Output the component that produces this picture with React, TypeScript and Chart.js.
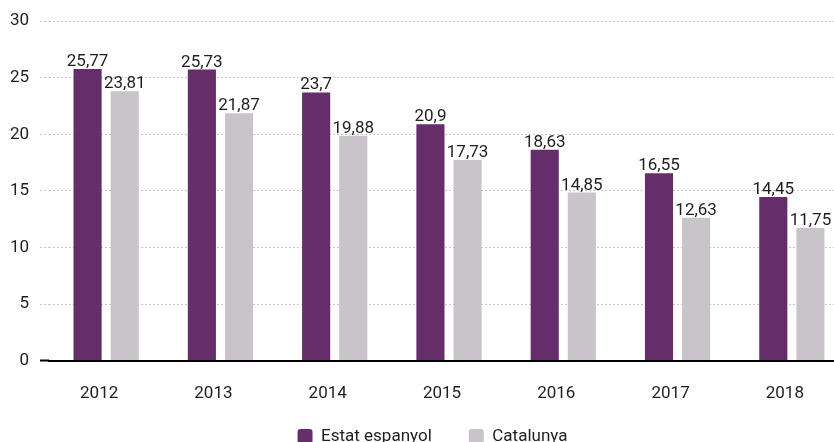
import React, { useEffect, useRef } from "react";
import { Chart, registerables } from "chart.js";

Chart.register(...registerables);

const years = ["2012", "2013", "2014", "2015", "2016", "2017", "2018"];
const estatEspanyol = [25.77, 25.73, 23.7, 20.9, 18.63, 16.55, 14.45];
const catalunya = [23.81, 21.87, 19.88, 17.73, 14.85, 12.63, 11.75];
const seriesNames = ["Estat espanyol", "Catalunya"];
const yTicks = [0, 5, 10, 15, 20, 25, 30];

const PURPLE = "#652d69";
const GREY = "#c9c4ca";
const TEXT = "#1e1e1e";
const FONT = "Roboto";

const fmt = (v: number) => String(v).replace(".", ",");

const valueLabels = {
  id: "valueLabels",
  afterDatasetsDraw(chart: any) {
    const ctx = chart.ctx;
    ctx.save();
    ctx.font = `17px ${FONT}`;
    ctx.fillStyle = TEXT;
    ctx.textAlign = "center";
    ctx.textBaseline = "alphabetic";
    chart.data.datasets.forEach((ds: any, di: number) => {
      const meta = chart.getDatasetMeta(di);
      meta.data.forEach((bar: any, i: number) => {
        ctx.fillText(fmt(ds.data[i]), bar.x, bar.y - 3);
      });
    });
    ctx.restore();
  },
};

// pull the legend up, closer under the axis labels, and nudge it right
const legendPlacement = {
  id: "legendPlacement",
  afterLayout(chart: any) {
    const lg = chart.legend;
    if (!lg) return;
    const h = lg.height;
    lg.top = chart.chartArea.bottom + 30.5;
    lg.bottom = lg.top + h;
    lg.left += 8;
    lg.right += 8;
  },
};

export default function App() {
  const ref = useRef<HTMLCanvasElement>(null);
  useEffect(() => {
    if (!ref.current) return;
    const chart = new Chart(ref.current, {
      type: "bar",
      data: {
        labels: years,
        datasets: [
          {
            label: seriesNames[0],
            data: estatEspanyol,
            backgroundColor: PURPLE,
            borderWidth: 0,
            barPercentage: 0.757,
            categoryPercentage: 0.65,
          },
          {
            label: seriesNames[1],
            data: catalunya,
            backgroundColor: GREY,
            borderWidth: 0,
            barPercentage: 0.757,
            categoryPercentage: 0.65,
          },
        ],
      },
      options: {
        responsive: false,
        animation: false,
        devicePixelRatio: 1,
        layout: { padding: { top: 20, right: 1, left: 0, bottom: 0 } },
        plugins: {
          tooltip: { enabled: false },
          legend: {
            position: "bottom",
            labels: {
              color: TEXT,
              font: { family: FONT, size: 17 },
              boxWidth: 15,
              boxHeight: 15,
              useBorderRadius: true,
              borderRadius: 3,
              padding: 37,
            },
          },
        },
        scales: {
          x: {
            grid: { display: false, drawTicks: false },
            border: { display: true, color: "#000", width: 2 },
            ticks: {
              color: TEXT,
              font: { family: FONT, size: 17 },
              padding: 23,
              labelOffset: -7,
            },
          },
          y: {
            min: 0,
            max: 30,
            afterBuildTicks: (scale: any) => {
              scale.ticks = yTicks.map((v) => ({ value: v }));
            },
            afterFit: (scale: any) => {
              scale.width = 49;
            },
            border: { display: false, dash: [2, 2] },
            grid: {
              color: "#c8c8c8",
              lineWidth: 1,
              drawTicks: true,
              tickLength: 9,
              tickColor: (c: any) => (c.tick && c.tick.value === 0 ? "#000" : "#c8c8c8"),
              tickWidth: (c: any) => (c.tick && c.tick.value === 0 ? 2 : 1),
              tickBorderDash: (c: any) => (c.tick && c.tick.value === 0 ? [] : [2, 2]),
            },
            ticks: {
              color: TEXT,
              font: { family: FONT, size: 17 },
              padding: 11,
            },
          },
        },
      },
      plugins: [valueLabels, legendPlacement],
    });
    return () => chart.destroy();
  }, []);
  return (
    <div
      style={{
        position: "absolute",
        left: 0,
        top: 0,
        width: 834,
        height: 442,
        overflow: "hidden",
        background: "#fff",
      }}
    >
      <canvas ref={ref} width={850} height={491} style={{ display: "block" }} />
    </div>
  );
}
